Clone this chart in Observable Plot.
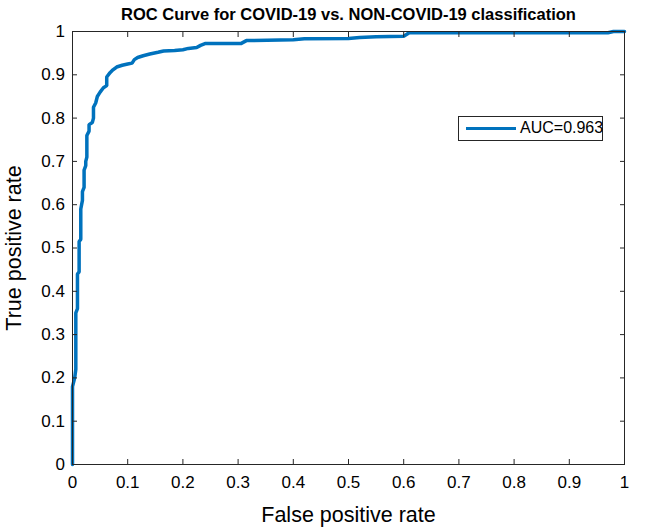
<!DOCTYPE html>
<html>
<head>
<meta charset="utf-8">
<script src="https://cdn.jsdelivr.net/npm/d3@7"></script>
<script src="https://cdn.jsdelivr.net/npm/@observablehq/plot@0.6"></script>
<style>
  html, body { margin: 0; padding: 0; background: #fff; }
  #wrap { position: relative; width: 646px; height: 527px; font-family: "Liberation Sans", Arial, sans-serif; }
  #legend { position: absolute; left: 458px; top: 116px; width: 145px; height: 25px; border: 1px solid #262626; background: #fff; box-sizing: border-box; }
  #legend .sw { position: absolute; left: 7px; top: 10px; width: 50px; height: 3px; background: #0072BD; }
  #legend .lb { position: absolute; left: 61px; top: 2px; font-size: 16px; color: #000; }
</style>
</head>
<body>
<div id="wrap"></div>
<script>
const title = "ROC Curve for COVID-19 vs. NON-COVID-19 classification";
const xLabel = "False positive rate";
const yLabel = "True positive rate";
const legendLabel = "AUC=0.963";
const ticks = [0, 0.1, 0.2, 0.3, 0.4, 0.5, 0.6, 0.7, 0.8, 0.9, 1];

const fpr = [0, 0, 0.004, 0.006, 0.006, 0.009, 0.009, 0.012, 0.012, 0.015, 0.015, 0.018, 0.018, 0.021, 0.021, 0.024, 0.024, 0.026, 0.026, 0.030, 0.030, 0.036, 0.038, 0.038, 0.042, 0.045, 0.050, 0.056, 0.062, 0.062, 0.068, 0.072, 0.080, 0.090, 0.100, 0.108, 0.112, 0.118, 0.128, 0.140, 0.155, 0.165, 0.185, 0.200, 0.210, 0.225, 0.232, 0.240, 0.305, 0.315, 0.400, 0.420, 0.500, 0.520, 0.550, 0.600, 0.610, 0.970, 0.980, 1];
const tpr = [0, 0.18, 0.20, 0.22, 0.35, 0.36, 0.44, 0.445, 0.515, 0.52, 0.59, 0.61, 0.63, 0.64, 0.68, 0.69, 0.70, 0.71, 0.76, 0.77, 0.785, 0.79, 0.80, 0.825, 0.835, 0.85, 0.86, 0.87, 0.875, 0.895, 0.905, 0.91, 0.918, 0.922, 0.925, 0.927, 0.935, 0.94, 0.944, 0.948, 0.952, 0.955, 0.956, 0.958, 0.961, 0.963, 0.968, 0.972, 0.972, 0.979, 0.981, 0.983, 0.984, 0.986, 0.988, 0.989, 0.997, 0.997, 1, 1];

const data = fpr.map((x, i) => ({x, y: tpr[i]}));
const fmt = d3.format("~g");
const axisColor = "#262626";

const plot = Plot.plot({
  width: 646,
  height: 527,
  marginLeft: 72,
  marginRight: 22,
  marginTop: 31,
  marginBottom: 63,
  style: {fontFamily: "'Liberation Sans', Arial, sans-serif", fontSize: "17px", color: "#000", background: "#fff"},
  x: {domain: [0, 1]},
  y: {domain: [0, 1]},
  marks: [
    Plot.line(data, {x: "x", y: "y", stroke: "#0072BD", strokeWidth: 3.5, strokeLinejoin: "miter"}),
    Plot.frame({stroke: axisColor, strokeWidth: 1}),
    Plot.axisX({ticks, anchor: "bottom", tickSize: -5, tickPadding: 16, tickFormat: fmt, stroke: axisColor, fill: "#000", fontSize: 17, label: null}),
    Plot.axisX({ticks, anchor: "top", tickSize: -5, tickFormat: () => "", stroke: axisColor, label: null}),
    Plot.axisY({ticks, anchor: "left", tickSize: -5, tickPadding: 12.5, tickFormat: fmt, stroke: axisColor, fill: "#000", fontSize: 17, label: null}),
    Plot.axisY({ticks, anchor: "right", tickSize: -5, tickFormat: () => "", stroke: axisColor, label: null}),
    Plot.text([title], {text: d => d, frameAnchor: "top", lineAnchor: "middle", textAnchor: "middle", dy: -17, fontSize: 16.5, fontWeight: "bold", fill: "#000"}),
    Plot.text([xLabel], {text: d => d, frameAnchor: "bottom", lineAnchor: "middle", textAnchor: "middle", dy: 51, fontSize: 21.5, fill: "#000"}),
    Plot.text([yLabel], {text: d => d, frameAnchor: "left", lineAnchor: "middle", textAnchor: "middle", dx: -58, rotate: -90, fontSize: 21.5, fill: "#000"})
  ]
});
const wrap = document.getElementById("wrap");
wrap.appendChild(plot);
const lg = document.createElement("div");
lg.id = "legend";
lg.innerHTML = '<div class="sw"></div><div class="lb"></div>';
lg.querySelector(".lb").textContent = legendLabel;
wrap.appendChild(lg);
</script>
</body>
</html>
